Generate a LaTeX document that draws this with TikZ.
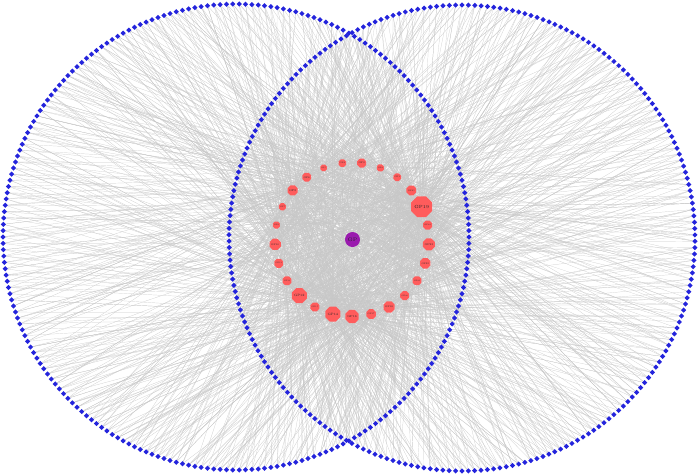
\documentclass[tikz,border=0pt]{standalone}
\usetikzlibrary{shapes.geometric}
\definecolor{dblue}{HTML}{2424DC}
\definecolor{gpred}{HTML}{FF5C5C}
\definecolor{gppur}{HTML}{9A1AAE}
\pgfdeclarelayer{bg}
\pgfsetlayers{bg,main}
\begin{document}
\begin{tikzpicture}[x=1pt,y=-1pt,
  dnode/.style={diamond,fill=dblue,inner sep=0pt,minimum width=5.4pt,minimum height=5.4pt},
  gnode/.style={regular polygon,regular polygon sides=8,fill=gpred,inner sep=0pt,text=black!85},
  cnode/.style={circle,fill=gppur,inner sep=0pt,minimum size=15pt,text=black!85,font=\fontsize{5}{5}\selectfont},
  edge/.style={draw=black!22,line width=0.2pt}]
\useasboundingbox (0,0) rectangle (699,475);
\foreach \i in {1,...,230}{
  \pgfmathsetmacro\ang{1.5652174*\i}
  \node[dnode] (L\i) at ({236+233*cos(\ang)},{237+233*sin(\ang)}) {};
  \node[dnode] (R\i) at ({462+233*cos(\ang+0.8)},{238+233*sin(\ang+0.8)}) {};
}
\foreach \k/\lab/\sz in {0/GP16/9,1/GP17/6.5,2/GP18/7.5,3/GP20/6,4/GP21/6,5/GP22/7,6/GP23/8,7/GP24/6,
  8/GP19/14,9/GP25/6.5,10/GP1/6.5,11/GP2/6,12/GP3/7.5,13/GP4/6.5,14/GP5/5.5,15/GP6/7.5,16/GP8/8.5,
  17/GP7/6,18/GP9/6,19/GP10/7.5,20/GP11/6,21/GP13/6,22/GP12/10,23/GP15/6,24/GP14/10}{
  \pgfmathsetmacro\fs{\sz*0.32}
  \node[gnode,minimum size=\sz pt,font=\fontsize{\fs}{\fs}\selectfont] (g\k)
    at ({352+77*cos(90-14.4*\k)},{239.5+77*sin(90-14.4*\k)}) {\lab};
}
\node[cnode] (gp) at (352.5,239.5) {GP};
\begin{pgfonlayer}{bg}
\pgfmathsetseed{7}
\pgfmathdeclarerandomlist{tgt}{{8}{8}{8}{8}{8}{8}{0}{0}{0}{24}{24}{24}{22}{22}{22}{16}{16}{6}{6}{19}{15}{12}{2}{1}{3}{4}{5}{7}{9}{10}{11}{13}{14}{17}{18}{20}{21}{23}}
\foreach \i in {1,...,230}{
  \foreach \j in {1,2,3,4}{
    \pgfmathrandomitem{\tga}{tgt}
    \draw[edge] (L\i) -- (g\tga);
    \pgfmathrandomitem{\tgb}{tgt}
    \draw[edge] (R\i) -- (g\tgb);
  }
}
\foreach \k in {0,...,24}{\draw[edge] (gp) -- (g\k);}
\end{pgfonlayer}
\end{tikzpicture}
\end{document}
